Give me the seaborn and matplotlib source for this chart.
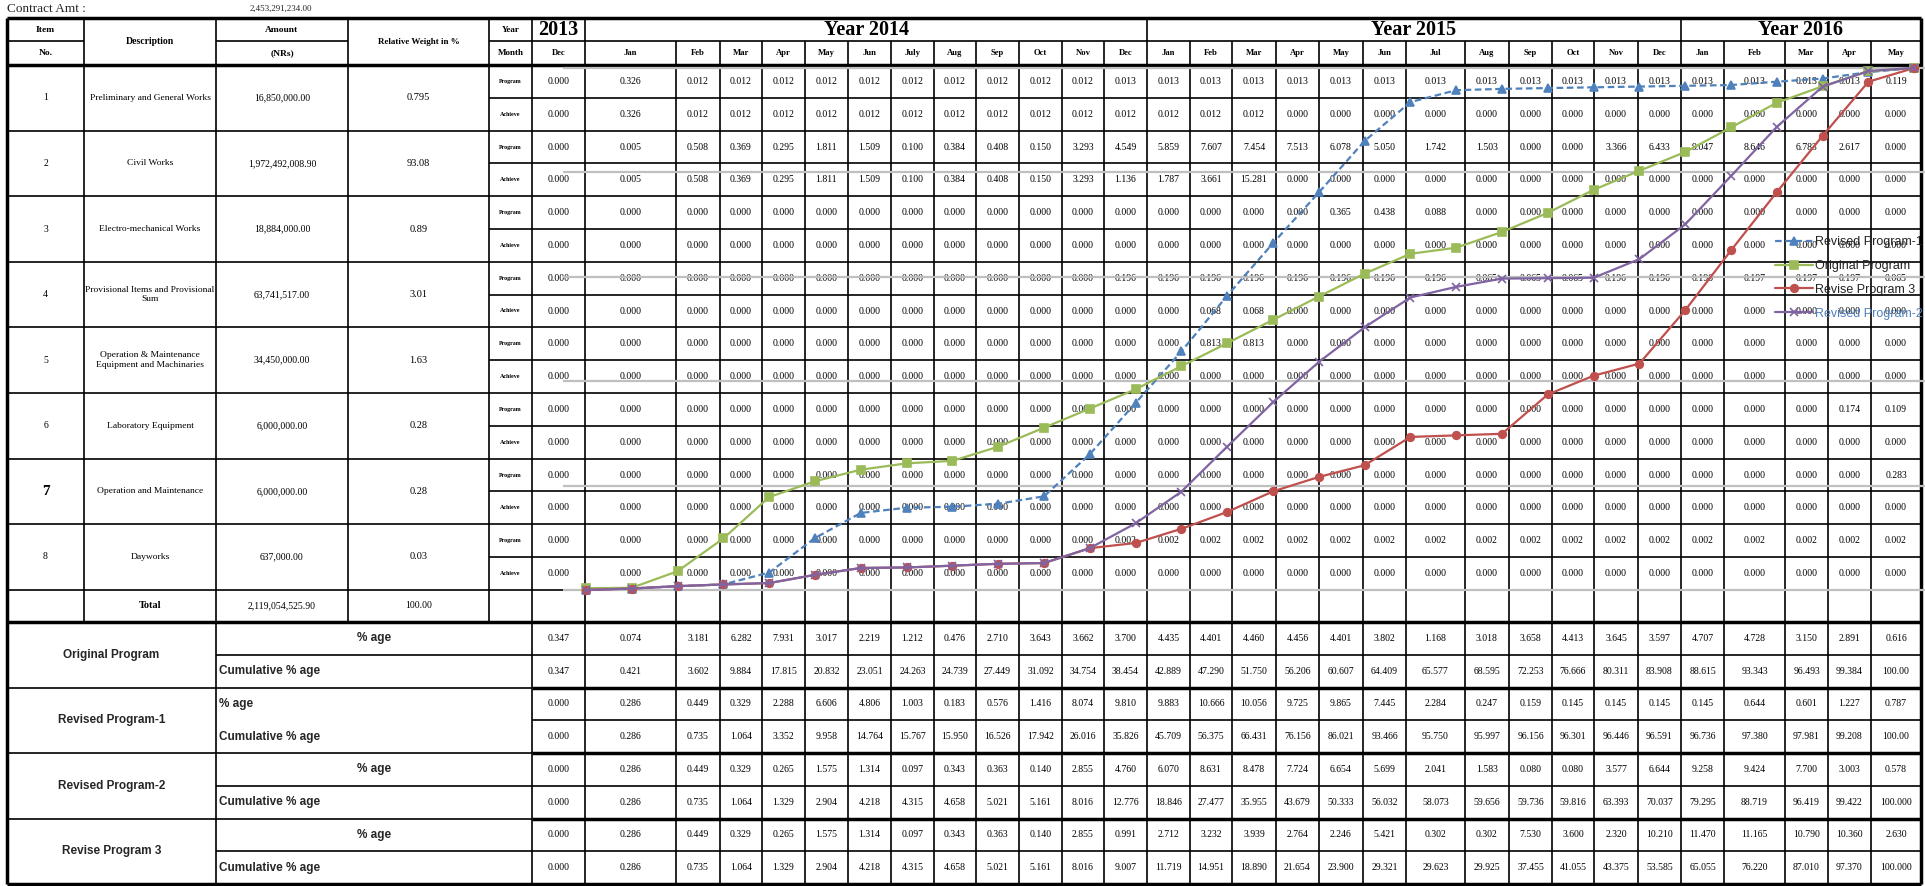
import matplotlib
matplotlib.use('Agg')
import pandas as pd
import seaborn as sns
import matplotlib.pyplot as plt

sns.set_theme(style='white')
plt.rcParams['font.family'] = ['Liberation Serif', 'DejaVu Serif']

# ---------------- data ----------------
contract_amt = '2,453,291,234.00'
month_labels = ['Dec', 'Jan', 'Feb', 'Mar', 'Apr', 'May', 'Jun', 'July', 'Aug', 'Sep', 'Oct', 'Nov', 'Dec',
                'Jan', 'Feb', 'Mar', 'Apr', 'May', 'Jun', 'Jul', 'Aug', 'Sep', 'Oct', 'Nov', 'Dec',
                'Jan', 'Feb', 'Mar', 'Apr', 'May']
year_labels = ['2013', 'Year 2014', 'Year 2015', 'Year 2016']
year_spans = [(0, 1), (1, 13), (13, 25), (25, 30)]

item_no = ['1', '2', '3', '4', '5', '6', '7', '8']
descriptions = ['Preliminary and General Works', 'Civil Works', 'Electro-mechanical Works',
                'Provisional Items and Provisional\nSum',
                'Operation & Maintenance\nEquipment and Machinaries',
                'Laboratory Equipment', 'Operation and Maintenance', 'Dayworks']
amounts = ['16,850,000.00', '1,972,492,008.90', '18,884,000.00', '63,741,517.00',
           '34,450,000.00', '6,000,000.00', '6,000,000.00', '637,000.00']
weights = ['0.795', '93.08', '0.89', '3.01', '1.63', '0.28', '0.28', '0.03']
total_amount = '2,119,054,525.90'
total_weight = '100.00'

Z = '0.000'
prog_1 = [Z, '0.326'] + ['0.012'] * 10 + ['0.013'] * 17 + ['0.119']
ach_1 = [Z, '0.326'] + ['0.012'] * 14 + [Z] * 14
prog_2 = ['0.000', '0.005', '0.508', '0.369', '0.295', '1.811', '1.509', '0.100', '0.384', '0.408',
          '0.150', '3.293', '4.549', '5.859', '7.607', '7.454', '7.513', '6.078', '5.050', '1.742',
          '1.503', '0.000', '0.000', '3.366', '6.433', '9.047', '8.646', '6.783', '2.617', '0.000']
ach_2 = ['0.000', '0.005', '0.508', '0.369', '0.295', '1.811', '1.509', '0.100', '0.384', '0.408',
         '0.150', '3.293', '1.136', '1.787', '3.661', '15.281'] + [Z] * 14
prog_3 = [Z] * 17 + ['0.365', '0.438', '0.088'] + [Z] * 10
ach_3 = [Z] * 30
prog_4 = [Z] * 12 + ['0.196'] * 8 + ['0.065'] * 3 + ['0.196'] * 3 + ['0.197'] * 3 + ['0.065']
ach_4 = [Z] * 14 + ['0.068'] * 2 + [Z] * 14
prog_5 = [Z] * 14 + ['0.813'] * 2 + [Z] * 14
ach_5 = [Z] * 30
prog_6 = [Z] * 28 + ['0.174', '0.109']
ach_6 = [Z] * 30
prog_7 = [Z] * 29 + ['0.283']
ach_7 = [Z] * 30
prog_8 = [Z] * 12 + ['0.002'] * 18
ach_8 = [Z] * 30
item_rows = [(prog_1, ach_1), (prog_2, ach_2), (prog_3, ach_3), (prog_4, ach_4),
             (prog_5, ach_5), (prog_6, ach_6), (prog_7, ach_7), (prog_8, ach_8)]

orig_pct = ['0.347', '0.074', '3.181', '6.282', '7.931', '3.017', '2.219', '1.212', '0.476', '2.710',
            '3.643', '3.662', '3.700', '4.435', '4.401', '4.460', '4.456', '4.401', '3.802', '1.168',
            '3.018', '3.658', '4.413', '3.645', '3.597', '4.707', '4.728', '3.150', '2.891', '0.616']
orig_cum = ['0.347', '0.421', '3.602', '9.884', '17.815', '20.832', '23.051', '24.263', '24.739', '27.449',
            '31.092', '34.754', '38.454', '42.889', '47.290', '51.750', '56.206', '60.607', '64.409', '65.577',
            '68.595', '72.253', '76.666', '80.311', '83.908', '88.615', '93.343', '96.493', '99.384', '100.00']
rev1_pct = ['0.000', '0.286', '0.449', '0.329', '2.288', '6.606', '4.806', '1.003', '0.183', '0.576',
            '1.416', '8.074', '9.810', '9.883', '10.666', '10.056', '9.725', '9.865', '7.445', '2.284',
            '0.247', '0.159', '0.145', '0.145', '0.145', '0.145', '0.644', '0.601', '1.227', '0.787']
rev1_cum = ['0.000', '0.286', '0.735', '1.064', '3.352', '9.958', '14.764', '15.767', '15.950', '16.526',
            '17.942', '26.016', '35.826', '45.709', '56.375', '66.431', '76.156', '86.021', '93.466', '95.750',
            '95.997', '96.156', '96.301', '96.446', '96.591', '96.736', '97.380', '97.981', '99.208', '100.00']
rev2_pct = ['0.000', '0.286', '0.449', '0.329', '0.265', '1.575', '1.314', '0.097', '0.343', '0.363',
            '0.140', '2.855', '4.760', '6.070', '8.631', '8.478', '7.724', '6.654', '5.699', '2.041',
            '1.583', '0.080', '0.080', '3.577', '6.644', '9.258', '9.424', '7.700', '3.003', '0.578']
rev2_cum = ['0.000', '0.286', '0.735', '1.064', '1.329', '2.904', '4.218', '4.315', '4.658', '5.021',
            '5.161', '8.016', '12.776', '18.846', '27.477', '35.955', '43.679', '50.333', '56.032', '58.073',
            '59.656', '59.736', '59.816', '63.393', '70.037', '79.295', '88.719', '96.419', '99.422', '100.000']
rev3_pct = ['0.000', '0.286', '0.449', '0.329', '0.265', '1.575', '1.314', '0.097', '0.343', '0.363',
            '0.140', '2.855', '0.991', '2.712', '3.232', '3.939', '2.764', '2.246', '5.421', '0.302',
            '0.302', '7.530', '3.600', '2.320', '10.210', '11.470', '11.165', '10.790', '10.360', '2.630']
rev3_cum = ['0.000', '0.286', '0.735', '1.064', '1.329', '2.904', '4.218', '4.315', '4.658', '5.021',
            '5.161', '8.016', '9.007', '11.719', '14.951', '18.890', '21.654', '23.900', '29.321', '29.623',
            '29.925', '37.455', '41.055', '43.375', '53.585', '65.055', '76.220', '87.010', '97.370', '100.000']

summary_names = ['Original Program', 'Revised Program-1', 'Revised Program-2', 'Revise Program 3']
summary_rows = [(orig_pct, orig_cum), (rev1_pct, rev1_cum), (rev2_pct, rev2_cum), (rev3_pct, rev3_cum)]

series_order = ['Revised Program-1', 'Original Program', 'Revise Program 3', 'Revised Program-2']
series_cum = {'Original Program': orig_cum, 'Revised Program-1': rev1_cum,
              'Revised Program-2': rev2_cum, 'Revise Program 3': rev3_cum}
palette = {'Revised Program-1': '#4F81BD', 'Original Program': '#9BBB59',
           'Revise Program 3': '#C0504D', 'Revised Program-2': '#8064A2'}
markers = {'Revised Program-1': '^', 'Original Program': 's',
           'Revise Program 3': 'o', 'Revised Program-2': 'x'}

# ---------------- layout (pixels) ----------------
W, H = 1925, 886
left_edges = [7, 84, 216, 348, 489, 532]
month_edges = [532, 585, 676, 720, 762, 805, 848, 891, 934, 976, 1019, 1062, 1104, 1147,
               1190, 1232, 1276, 1319, 1363, 1406, 1465, 1509, 1552, 1594, 1638, 1681,
               1724, 1785, 1828, 1871, 1921]
mx = [(month_edges[i] + month_edges[i + 1]) / 2 for i in range(30)]
TOP, HMID, HBOT = 18, 41, 65
ITEM_H = 65.6
TOT_TOP, TOT_BOT = 590, 622
SUM_H = 65.5
BOT = 884
L, R = 7, 1921

fig = plt.figure(figsize=(W / 100, H / 100), dpi=100)
tab = fig.add_axes([0, 0, 1, 1])
tab.set_xlim(0, W)
tab.set_ylim(H, 0)
tab.axis('off')


def hl(y, x0, x1, lw=1.2):
    tab.plot([x0, x1], [y, y], color='black', lw=lw, solid_capstyle='butt')


def vl(x, y0, y1, lw=1.2):
    tab.plot([x, x], [y0, y1], color='black', lw=lw, solid_capstyle='butt')


def txt(x, y, s, size=7, ha='center', **kw):
    tab.text(x, y, s, fontsize=size, ha=ha, va='center', color='black', **kw)


# header lines
hl(TOP, L, R, 2.5)
hl(HMID, L, 84)
hl(HMID, 216, 348)
hl(HMID, 489, R)
hl(HBOT, L, R, 2.5)
for x in left_edges[1:]:
    vl(x, TOP, TOT_BOT)
for i, x in enumerate(month_edges[1:-1], start=1):
    if i in (1, 13, 25):
        vl(x, TOP, BOT)
    else:
        vl(x, HMID, BOT)
# item rows
for k in range(8):
    top = HBOT + k * ITEM_H
    hl(top + ITEM_H, L, R)
    hl(top + ITEM_H / 2, 489, R)
hl(TOT_BOT, L, R, 2.5)
# summary block
vl(216, TOT_BOT, BOT)
vl(532, TOT_BOT, BOT)
for b in range(1, 4):
    y = TOT_BOT + b * SUM_H
    hl(y, L, 532, 1.2)
    hl(y, 532, R, 2.5)
for b in range(4):
    ym = TOT_BOT + b * SUM_H + SUM_H / 2
    hl(ym, 532 if b == 1 else 216, R)
vl(L, TOP, BOT, 2.5)
vl(R, TOP, BOT, 2.5)
hl(BOT, L, R, 2.5)

# header text
tab.text(7, 9, 'Contract Amt :', fontsize=9.5, ha='left', va='center')
tab.text(250, 9, contract_amt, fontsize=6.5, ha='left', va='center')
txt(45.5, 29.5, 'Item', 6.8, weight='bold')
txt(45.5, 53, 'No.', 6.8, weight='bold')
txt(150, 41.5, 'Description', 7, weight='bold')
txt(282, 29.5, 'Amount', 6.8, weight='bold')
txt(282, 53, '(NRs)', 6.8, weight='bold')
txt(418.5, 41.5, 'Relative Weight in %', 6.5, weight='bold')
txt(510.5, 29.5, 'Year', 6.5, weight='bold')
txt(510.5, 53, 'Month', 6.5, weight='bold')
for lab, (a, b) in zip(year_labels, year_spans):
    txt((month_edges[a] + month_edges[b]) / 2, 30, lab, 14.5, weight='bold')
for x, m in zip(mx, month_labels):
    txt(x, 53, m, 6.2, weight='bold')

# item rows text
for k in range(8):
    top = HBOT + k * ITEM_H
    yc = top + ITEM_H / 2
    if item_no[k] == '7':
        txt(45.5, yc, item_no[k], 11, weight='bold')
    else:
        txt(45.5, yc, item_no[k], 7)
    txt(150, yc, descriptions[k], 6.8, linespacing=1.25)
    txt(282, yc, amounts[k], 7)
    txt(418.5, yc, weights[k], 7.5)
    txt(510.5, top + ITEM_H * 0.25, 'Program', 4.3, weight='bold')
    txt(510.5, top + ITEM_H * 0.75, 'Achieve', 4.3, weight='bold')
    prog, ach = item_rows[k]
    for x, p, a in zip(mx, prog, ach):
        txt(x, top + ITEM_H * 0.25, p, 7)
        txt(x, top + ITEM_H * 0.75, a, 7)

yt = (TOT_TOP + TOT_BOT) / 2
txt(150, yt, 'Total', 7.5, weight='bold')
txt(282, yt, total_amount, 7)
txt(418.5, yt, total_weight, 7)

# summary text
SANS = ['Liberation Sans', 'DejaVu Sans']
for b in range(4):
    top = TOT_BOT + b * SUM_H
    y1, y2 = top + SUM_H * 0.25, top + SUM_H * 0.75
    tab.text(111.5, top + SUM_H / 2, summary_names[b], fontsize=8.5, ha='center', va='center',
             weight='bold', family=SANS)
    if b == 1:
        tab.text(219, y1, '% age', fontsize=8.5, ha='left', va='center', weight='bold', family=SANS)
    else:
        tab.text(374, y1, '% age', fontsize=8.5, ha='center', va='center', weight='bold', family=SANS)
    tab.text(219, y2, 'Cumulative % age', fontsize=8.5, ha='left', va='center', weight='bold', family=SANS)
    pct, cum = summary_rows[b]
    for x, p, c in zip(mx, pct, cum):
        txt(x, y1, p, 7)
        txt(x, y2, c, 7)

# ---------------- S-curve overlay ----------------
X0, DX = 586, 45.8      # pixel of first month point, pixels per month
Y0, DY = 590, 5.22      # pixel of 0 %, pixels per 1 %
ch = fig.add_axes([0, 0, 1, 1])
ch.patch.set_alpha(0)
ch.set_xlim(-X0 / DX, (W - X0) / DX)
ch.set_ylim((Y0 - H) / DY, Y0 / DY)
ch.axis('off')
ch.hlines([0, 20, 40, 60, 80, 100], -0.5, 29.6, color='#BFBFBF', lw=1.6, zorder=1)

rows = []
for name in series_order:
    for i, v in enumerate(series_cum[name]):
        rows.append({'month': i, 'cum': float(v), 'series': name})
df = pd.DataFrame(rows)

for name in series_order:
    sns.lineplot(data=df[df['series'] == name], x='month', y='cum', color=palette[name],
                 marker=markers[name], linestyle='--' if name == 'Revised Program-1' else '-',
                 linewidth=1.6, markersize=5.5, sort=False, ax=ch, zorder=3)
for ln in ch.lines:
    ln.set_markeredgecolor(ln.get_color())
    ln.set_markerfacecolor(ln.get_color())
    ln.set_markeredgewidth(1.2)
    if ln.get_linestyle() == '--':
        ln.set_dashes((3, 1.6))

leg = ch.legend(ch.lines, series_order, loc='upper left',
                bbox_to_anchor=(1775 / W, 1 - 236 / H), bbox_transform=fig.transFigure,
                frameon=False, labelspacing=0.95, handlelength=3.0,
                handletextpad=0.2, borderpad=0, borderaxespad=0,
                prop={'family': SANS, 'size': 9})
for t in leg.get_texts():
    t.set_color('#222222')
leg.get_texts()[3].set_color('#4F81BD')

fig.savefig('out.png', dpi=100)
